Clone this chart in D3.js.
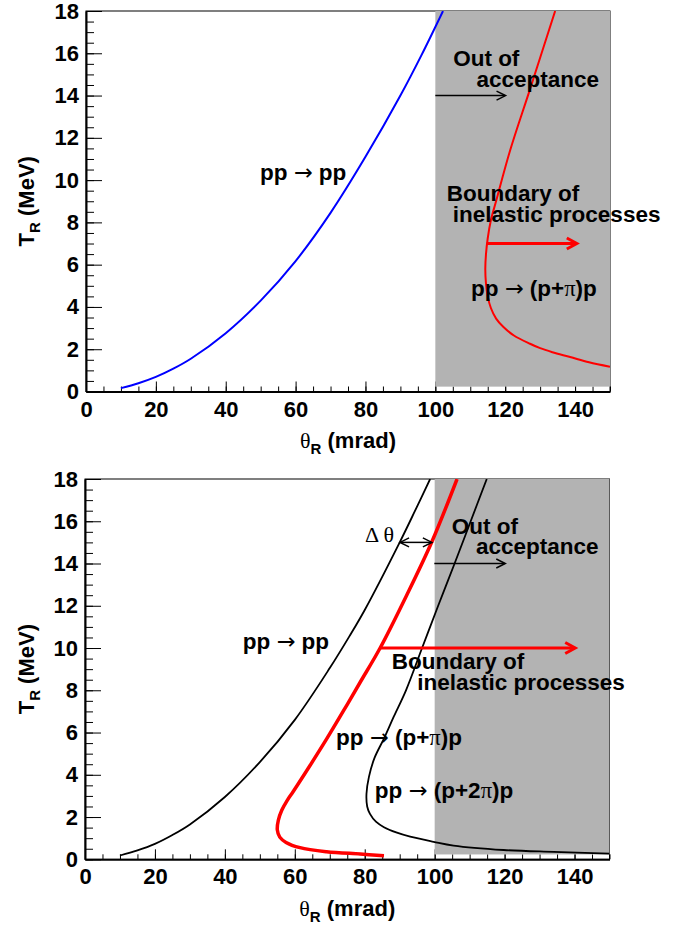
<!DOCTYPE html>
<html><head><meta charset="utf-8">
<script src="https://cdn.jsdelivr.net/npm/d3@7"></script>
<style>html,body{margin:0;padding:0;background:#fff;} svg{display:block;}</style>
</head><body>
<svg id="c" width="688" height="928"></svg>
<script>
// ---------------- data ----------------
const thetaTicks = [0, 20, 40, 60, 80, 100, 120, 140];
const energyTicks = [0, 2, 4, 6, 8, 10, 12, 14, 16, 18];
const thetaDomain = [0, 150];
const energyDomain = [0, 18];
const acceptanceTheta = [100, 150];
const acceptanceT = [0.23, 18];

// top panel: elastic pp -> pp (blue)
const topElasticTheta = [10, 15, 20, 25, 30, 40, 50, 60, 70, 80, 90, 96, 102.2];
const topElasticT     = [0.16, 0.39, 0.69, 1.08, 1.55, 2.76, 4.30, 6.17, 8.45, 11.1, 14.0, 15.9, 18.0];

// top panel: pp -> (p+pi)p boundary (red)
const topPionTheta = [150, 144, 138.6, 133.5, 130, 127.1, 122.5, 119.5, 117.4, 115.9, 115.0, 114.5, 114.3, 114.5, 115.0, 115.9, 117.3, 121.4, 126.9, 134.3];
const topPionT     = [1.17, 1.38, 1.63, 1.86, 2.05, 2.26, 2.65, 3.05, 3.45, 3.95, 4.50, 5.10, 5.80, 6.50, 7.25, 8.10, 8.95, 11.4, 14.2, 18.0];

// bottom panel: elastic pp -> pp (black)
const botElasticTheta = [10, 15, 20, 25, 30, 40, 50, 60, 70, 75.6, 80, 90, 94.4, 98.7];
const botElasticT     = [0.18, 0.42, 0.73, 1.15, 1.65, 2.95, 4.60, 6.60, 9.05, 10.55, 11.8, 15.0, 16.5, 18.0];

// bottom panel: pp -> (p+pi)p (red)
const botPionTheta = [85.5, 78.7, 69.1, 61.5, 57.5, 55.7, 55.0, 55.3, 56.3, 57.8, 59.6, 64.4, 69.2, 73.9, 78.7, 84.4, 92.0, 99.2, 106.4];
const botPionT     = [0.17, 0.25, 0.36, 0.55, 0.80, 1.05, 1.39, 1.85, 2.33, 2.78, 3.22, 4.45, 5.72, 7.02, 8.38, 10.0, 12.5, 15.03, 18.0];

// bottom panel: pp -> (p+2pi)p (black)
const botTwoPionTheta = [150, 134, 119.7, 105.4, 99.7, 93.0, 89.0, 85.5, 83.2, 81.5, 80.7, 80.5, 81.2, 82.8, 85.6, 88.3, 91.8, 96.4, 101.0, 105.7, 110.3, 114.9];
const botTwoPionT     = [0.27, 0.35, 0.44, 0.65, 0.83, 1.07, 1.27, 1.52, 1.78, 2.15, 2.50, 3.10, 3.90, 4.80, 5.75, 6.75, 8.0, 10.0, 12.0, 14.0, 16.0, 18.0];

// arrows (theta from, theta to, T)
const topAcceptArrow = [100, 120.1, 14];
const topBoundaryArrow = [114.7, 140.5, 7];
const botAcceptArrow = [99.9, 120.2, 14];
const botBoundaryArrow = [84.3, 140.2, 10];
const botDeltaArrow = [90.1, 99.2, 15];

// ---------------- drawing ----------------
const svg = d3.select("#c");
const SANS = "'Liberation Sans', Arial, Helvetica, sans-serif";
const SERIF = "'Liberation Serif', 'Times New Roman', serif";
const ARROWF = "'DejaVu Sans', sans-serif";

const zip = (a, b) => a.map((v, i) => [v, b[i]]);

function panel(box, id) {
  const x = d3.scaleLinear().domain(thetaDomain).range([box.x0, box.x1]);
  const y = d3.scaleLinear().domain(energyDomain).range([box.y0, box.y1]);
  const g = svg.append("g");

  g.append("rect").attr("x", box.x0).attr("y", box.y1)
    .attr("width", box.x1 - box.x0).attr("height", box.y0 - box.y1)
    .attr("fill", "none").attr("stroke", "#000").attr("stroke-width", 1);

  const yMinor = d3.range(0, 18.01, 0.5);
  g.append("g").attr("transform", `translate(${box.x0},0)`)
    .call(d3.axisLeft(y).tickValues(yMinor).tickSize(-8).tickSizeOuter(0).tickFormat(""))
    .call(s => s.select(".domain").remove())
    .call(s => s.selectAll("line").attr("stroke", "#000").attr("stroke-width", 1));
  g.append("g").attr("transform", `translate(${box.x0},0)`)
    .call(d3.axisLeft(y).tickValues(energyTicks).tickSize(-16).tickSizeOuter(0).tickPadding(7).tickFormat(d3.format("d")))
    .call(s => s.select(".domain").attr("stroke", "#000").attr("stroke-width", 2))
    .call(s => s.selectAll("line").attr("stroke", "#000").attr("stroke-width", 1))
    .call(s => s.selectAll("text").attr("font-family", SANS).attr("font-weight", "bold")
      .attr("font-size", 22).attr("fill", "#000"));

  const xMinor = d3.range(0, 150.01, 5);
  g.append("g").attr("transform", `translate(0,${box.y0})`)
    .call(d3.axisBottom(x).tickValues(xMinor).tickSize(-5).tickSizeOuter(0).tickFormat(""))
    .call(s => s.select(".domain").remove())
    .call(s => s.selectAll("line").attr("stroke", "#000").attr("stroke-width", 1));
  g.append("g").attr("transform", `translate(0,${box.y0})`)
    .call(d3.axisBottom(x).tickValues(thetaTicks).tickSize(-10).tickSizeOuter(0).tickPadding(9.5).tickFormat(d3.format("d")))
    .call(s => s.select(".domain").attr("stroke", "#000").attr("stroke-width", 2))
    .call(s => s.selectAll("line").attr("stroke", "#000").attr("stroke-width", 1))
    .call(s => s.selectAll("text").attr("font-family", SANS).attr("font-weight", "bold")
      .attr("font-size", 22).attr("fill", "#000"));

  const xt = g.append("text").attr("x", (box.x0 + box.x1) / 2).attr("y", box.y0 + 56.5)
    .attr("text-anchor", "middle").attr("font-family", SANS).attr("font-weight", "bold")
    .attr("font-size", 22).attr("fill", "#000");
  xt.append("tspan").attr("font-family", SERIF).attr("font-weight", "normal").text("θ");
  xt.append("tspan").attr("font-size", 15).attr("dy", 6).text("R");
  xt.append("tspan").attr("dy", -6).text(" (mrad)");

  const ycx = 33.5, ycy = (box.y0 + box.y1) / 2;
  const yt = g.append("text").attr("transform", `translate(${ycx},${ycy}) rotate(-90)`)
    .attr("text-anchor", "middle").attr("font-family", SANS).attr("font-weight", "bold")
    .attr("font-size", 22).attr("fill", "#000");
  yt.append("tspan").text("T");
  yt.append("tspan").attr("font-size", 15).attr("dy", 6).text("R");
  yt.append("tspan").attr("dy", -6).text(" (MeV)");

  g.append("rect").attr("x", x(acceptanceTheta[0])).attr("y", y(acceptanceT[1]))
    .attr("width", x(acceptanceTheta[1]) - x(acceptanceTheta[0]))
    .attr("height", y(acceptanceT[0]) - y(acceptanceT[1]))
    .attr("fill", "#b3b3b3");

  svg.append("clipPath").attr("id", id).append("rect")
    .attr("x", box.x0).attr("y", box.y1).attr("width", box.x1 - box.x0).attr("height", box.y0 - box.y1);
  const curves = g.append("g").attr("clip-path", `url(#${id})`);

  return { x, y, g, curves };
}

function curve(p, xs, ys, color, width) {
  const line = d3.line().x(d => p.x(d[0])).y(d => p.y(d[1])).curve(d3.curveCatmullRom.alpha(0.5));
  p.curves.append("path").attr("d", line(zip(xs, ys)))
    .attr("fill", "none").attr("stroke", color).attr("stroke-width", width)
    .attr("stroke-linejoin", "round");
}

function arrow(p, spec, color, width, len, hw, dbl) {
  const [t0, t1, T] = spec;
  const xa = p.x(t0), xb = p.x(t1), yy = p.y(T);
  const a = p.g.append("g").attr("stroke", color).attr("stroke-width", width).attr("fill", "none")
    .attr("stroke-linecap", "butt").attr("stroke-linejoin", "miter");
  a.append("line").attr("x1", xa).attr("x2", xb - width * 0.5).attr("y1", yy).attr("y2", yy);
  a.append("path").attr("d", `M${xb - len},${yy - hw}L${xb},${yy}L${xb - len},${yy + hw}`);
  if (dbl) a.append("path").attr("d", `M${xa + len},${yy - hw}L${xa},${yy}L${xa + len},${yy + hw}`);
}

function label(p, t, T, parts, opts = {}) {
  const txt = p.g.append("text").attr("x", p.x(t)).attr("y", p.y(T))
    .attr("font-family", opts.serif ? SERIF : SANS)
    .attr("font-weight", opts.serif ? "normal" : "bold")
    .attr("font-size", opts.size || 22.5).attr("fill", "#000");
  parts.forEach(pt => {
    if (typeof pt === "string") txt.append("tspan").text(pt);
    else if (pt.s === "→") txt.append("tspan").attr("font-family", ARROWF).attr("font-weight", "normal").text(pt.s);
    else txt.append("tspan").attr("font-family", SERIF).attr("font-weight", "normal").text(pt.s);
  });
}

// ---- top panel ----
const topP = panel({ x0: 86, x1: 610, y0: 391.5, y1: 11 }, "clipTop");
curve(topP, topElasticTheta, topElasticT, "#0000ff", 2);
curve(topP, topPionTheta, topPionT, "#ff0000", 2);
arrow(topP, topAcceptArrow, "#000", 1.5, 9, 4.5, false);
arrow(topP, topBoundaryArrow, "#ff0000", 3, 10, 5.5, false);
label(topP, 49.8, 10.0, ["pp ", { s: "→" }, " pp"]);
label(topP, 105.1, 15.4, ["Out of"]);
label(topP, 111.8, 14.42, ["acceptance"]);
label(topP, 103.3, 9.03, ["Boundary of"]);
label(topP, 105.0, 8.0, ["inelastic processes"]);
label(topP, 110.2, 4.5, ["pp ", { s: "→" }, " (p+", { s: "π" }, ")p"]);

// ---- bottom panel ----
const botP = panel({ x0: 85, x1: 609.5, y0: 859.3, y1: 479 }, "clipBot");
curve(botP, botElasticTheta, botElasticT, "#000", 1.8);
curve(botP, botTwoPionTheta, botTwoPionT, "#000", 1.8);
curve(botP, botPionTheta, botPionT, "#ff0000", 3.5);
arrow(botP, botAcceptArrow, "#000", 1.5, 9, 4.5, false);
arrow(botP, botBoundaryArrow, "#ff0000", 3, 10, 5.5, false);
arrow(botP, botDeltaArrow, "#000", 1.5, 9, 4.5, true);
label(botP, 45.1, 9.94, ["pp ", { s: "→" }, " pp"]);
label(botP, 80.1, 15.03, ["Δ θ"], { serif: true, size: 22 });
label(botP, 104.9, 15.4, ["Out of"]);
label(botP, 111.8, 14.47, ["acceptance"]);
label(botP, 87.7, 9.02, ["Boundary of"]);
label(botP, 95.0, 8.0, ["inelastic processes"]);
label(botP, 71.8, 5.41, ["pp ", { s: "→" }, " (p+", { s: "π" }, ")p"]);
label(botP, 82.9, 2.89, ["pp ", { s: "→" }, " (p+2", { s: "π" }, ")p"]);
</script>
</body></html>
